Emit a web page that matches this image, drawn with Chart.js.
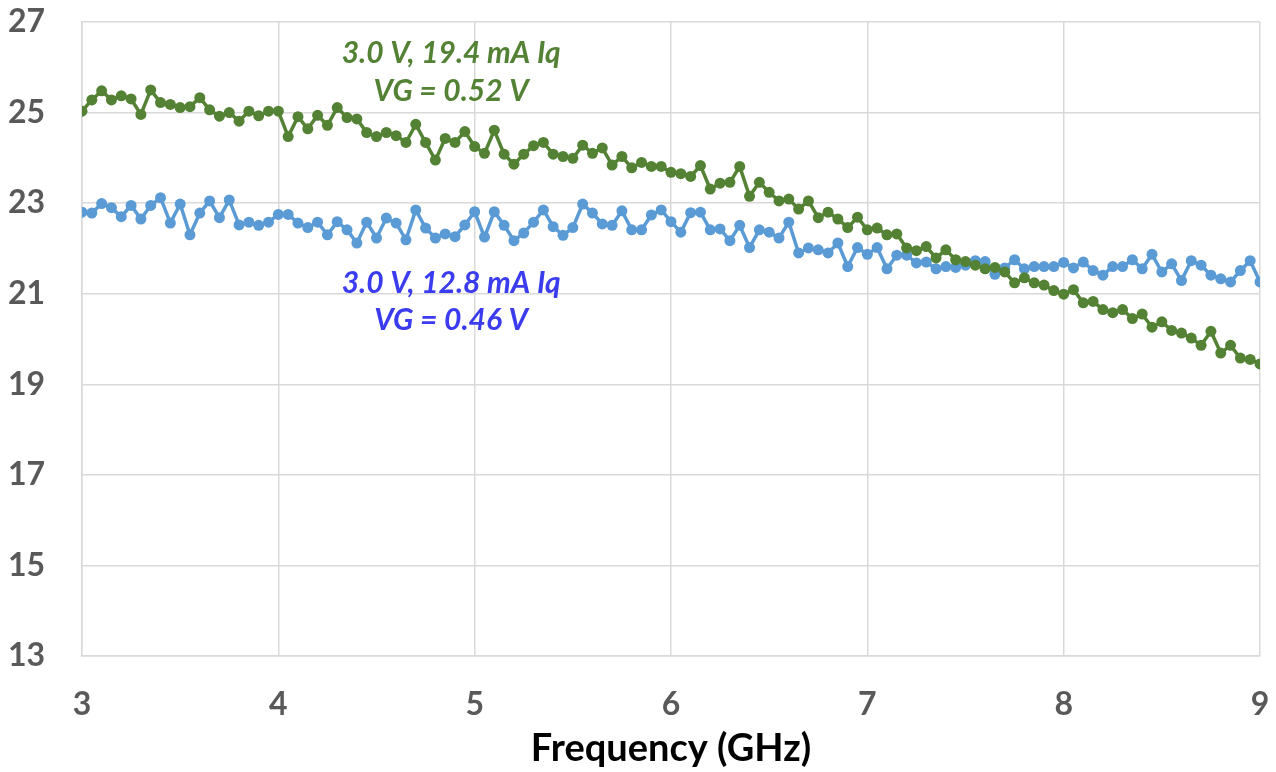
<!DOCTYPE html>
<html>
<head>
<meta charset="utf-8">
<script src="https://cdn.jsdelivr.net/npm/chart.js@4/dist/chart.umd.min.js"></script>
<style>
  html, body { margin: 0; padding: 0; background: #ffffff; }
  #wrap { width: 1276px; height: 772px; }
</style>
</head>
<body>
<div id="wrap"><canvas id="gainChart" width="1276" height="772"></canvas></div>
<script>
// --- Data: gain vs frequency, 3 to 9 GHz in 50 MHz steps ---
const freqStart = 3.0;
const freqStep = 0.05;

const gainHighIq = [
  25.03, 25.28, 25.48, 25.28, 25.37, 25.30, 24.96, 25.50, 25.22, 25.18,
  25.11, 25.13, 25.33, 25.06, 24.92, 25.00, 24.81, 25.03, 24.93, 25.03,
  25.03, 24.47, 24.91, 24.64, 24.94, 24.72, 25.11, 24.89, 24.86, 24.56,
  24.47, 24.56, 24.49, 24.34, 24.74, 24.34, 23.95, 24.43, 24.34, 24.58,
  24.25, 24.10, 24.61, 24.08, 23.86, 24.08, 24.27, 24.34, 24.08, 24.03,
  23.99, 24.28, 24.10, 24.22, 23.84, 24.03, 23.78, 23.90, 23.81, 23.81,
  23.68, 23.65, 23.59, 23.83, 23.31, 23.44, 23.46, 23.81, 23.15, 23.46,
  23.24, 23.05, 23.09, 22.87, 23.05, 22.68, 22.80, 22.65, 22.46, 22.69,
  22.41, 22.45, 22.30, 22.32, 22.01, 21.95, 22.04, 21.79, 21.97, 21.75,
  21.71, 21.63, 21.55, 21.58, 21.48, 21.24, 21.35, 21.24, 21.19, 21.07,
  20.99, 21.09, 20.80, 20.83, 20.65, 20.58, 20.65, 20.45, 20.55, 20.26,
  20.38, 20.19, 20.13, 20.02, 19.86, 20.17, 19.69, 19.86, 19.58, 19.55,
  19.45
];

const gainLowIq = [
  22.80, 22.78, 22.99, 22.90, 22.70, 22.95, 22.65, 22.95, 23.12, 22.56,
  22.98, 22.30, 22.78, 23.05, 22.68, 23.07, 22.52, 22.58, 22.51, 22.58,
  22.75, 22.75, 22.56, 22.46, 22.58, 22.30, 22.59, 22.41, 22.12, 22.58,
  22.23, 22.67, 22.56, 22.19, 22.85, 22.45, 22.23, 22.32, 22.26, 22.52,
  22.81, 22.25, 22.81, 22.51, 22.17, 22.34, 22.58, 22.85, 22.48, 22.29,
  22.46, 22.98, 22.78, 22.54, 22.51, 22.83, 22.41, 22.41, 22.74, 22.85,
  22.59, 22.36, 22.79, 22.80, 22.41, 22.43, 22.17, 22.51, 22.02, 22.41,
  22.36, 22.23, 22.58, 21.90, 22.01, 21.97, 21.90, 22.12, 21.60, 22.02,
  21.87, 22.02, 21.55, 21.85, 21.85, 21.68, 21.70, 21.55, 21.60, 21.58,
  21.63, 21.73, 21.71, 21.43, 21.57, 21.75, 21.55, 21.60, 21.60, 21.60,
  21.69, 21.57, 21.70, 21.51, 21.41, 21.60, 21.60, 21.75, 21.55, 21.87,
  21.48, 21.66, 21.29, 21.73, 21.63, 21.41, 21.33, 21.26, 21.51, 21.73,
  21.26
];

const seriesLabels = ["3.0 V, 19.4 mA Iq", "3.0 V, 12.8 mA Iq"];
const biasLabels = ["VG = 0.52 V", "VG = 0.46 V"];

const GREEN = "#548235";
const BLUE = "#5b9bd5";
const BLUE_TEXT = "#3b3bef";

const toPoints = (values) =>
  values.map((v, i) => ({ x: +(freqStart + i * freqStep).toFixed(2), y: v }));

// --- Inline labels next to each curve, placed in data coordinates ---
const curveLabels = {
  id: "curveLabels",
  afterDatasetsDraw(chart, args, opts) {
    const { ctx, scales } = chart;
    ctx.save();
    ctx.font = opts.font;
    ctx.textAlign = "center";
    ctx.textBaseline = "middle";
    opts.items.forEach((item) => {
      ctx.fillStyle = item.color;
      ctx.fillText(item.text, scales.x.getPixelForValue(item.x), scales.y.getPixelForValue(item.y));
    });
    ctx.restore();
  },
};

const ctx = document.getElementById("gainChart").getContext("2d");

new Chart(ctx, {
  type: "line",
  data: {
    datasets: [
      {
        label: seriesLabels[0],
        data: toPoints(gainHighIq),
        borderColor: GREEN,
        backgroundColor: GREEN,
        borderWidth: 3.5,
        pointRadius: 5.5,
        pointBorderWidth: 0,
        tension: 0,
      },
      {
        label: seriesLabels[1],
        data: toPoints(gainLowIq),
        borderColor: BLUE,
        backgroundColor: BLUE,
        borderWidth: 3.5,
        pointRadius: 5.5,
        pointBorderWidth: 0,
        tension: 0,
      },
    ],
  },
  options: {
    responsive: false,
    animation: false,
    layout: { padding: 0 },
    plugins: {
      legend: { display: false },
      tooltip: { enabled: false },
      curveLabels: {
        font: "italic bold 30px Lato",
        items: [
          { text: seriesLabels[0], x: 4.88, y: 26.30, color: GREEN },
          { text: biasLabels[0], x: 4.88, y: 25.46, color: GREEN },
          { text: seriesLabels[1], x: 4.88, y: 21.24, color: BLUE_TEXT },
          { text: biasLabels[1], x: 4.88, y: 20.42, color: BLUE_TEXT },
        ],
      },
    },
    scales: {
      x: {
        type: "linear",
        min: 3,
        max: 9,
        // fixed band under the plot; keep the plot edge at 1260
        afterFit: (scale) => {
          scale.height = 116;
          scale.paddingLeft = 0;
          scale.paddingRight = 16;
        },
        ticks: {
          stepSize: 1,
          padding: 29,
          color: "#595959",
          font: { family: "Lato", size: 32, weight: "bold" },
        },
        grid: { color: "#d9d9d9", lineWidth: 1.5, drawTicks: false },
        border: { color: "#d9d9d9", width: 1.5 },
        title: {
          display: true,
          text: "Frequency (GHz)",
          color: "#000000",
          font: { family: "Lato", size: 38, weight: "bold" },
          padding: { top: 0, bottom: 0 },
        },
      },
      y: {
        min: 13,
        max: 27,
        afterFit: (scale) => {
          scale.width = 82;
          scale.paddingTop = 22;
          scale.paddingBottom = 0;
        },
        ticks: {
          stepSize: 2,
          padding: 37,
          color: "#595959",
          font: { family: "Lato", size: 32, weight: "bold" },
        },
        grid: { color: "#d9d9d9", lineWidth: 1.5, drawTicks: false },
        border: { color: "#d9d9d9", width: 1.5 },
      },
    },
  },
  plugins: [curveLabels],
});
</script>
</body>
</html>
